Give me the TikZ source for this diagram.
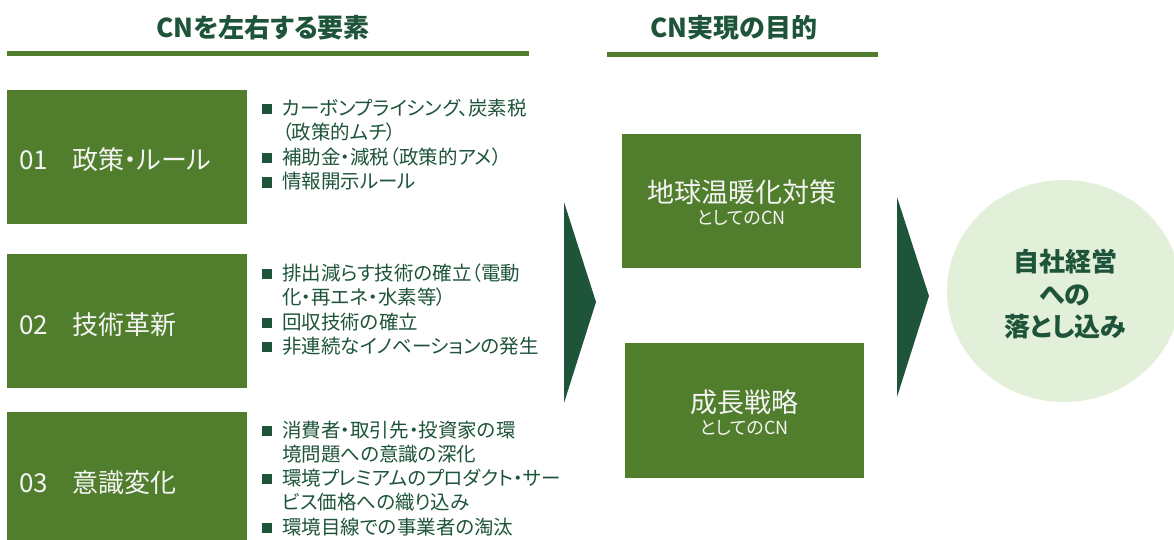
\documentclass[tikz,border=0pt]{standalone}
\usepackage{fontspec}
\setmainfont{Noto Sans CJK JP}[RawFeature=+palt]
\usetikzlibrary{shapes.geometric}
\definecolor{boxgreen}{HTML}{507E2C}
\definecolor{darkgreen}{HTML}{1E5439}
\definecolor{lightgreen}{HTML}{E2F0D9}
\definecolor{boxtext}{HTML}{F4F4F4}
\newcommand{\bsq}{\makebox[20pt][l]{\raisebox{1.5pt}{\rule{10pt}{10pt}}}}
\tikzset{
  leftbox/.style={fill=boxgreen, inner sep=0pt, minimum width=240pt, minimum height=134pt},
  midbox/.style={fill=boxgreen, inner sep=0pt, minimum width=239pt, minimum height=134pt},
  boxlabel/.style={anchor=base west, inner sep=0pt, text=boxtext, font=\fontsize{26}{30}\selectfont},
  midlabel/.style={anchor=base, inner sep=0pt, text=boxtext, font=\fontsize{27}{30}\selectfont},
  midsub/.style={anchor=base, inner sep=0pt, text=boxtext, font=\fontsize{18}{20}\selectfont},
  bullet/.style={anchor=base west, inner sep=0pt, text=darkgreen, font=\fontsize{19.5}{24}\selectfont},
  titletext/.style={anchor=base, inner sep=0pt, text=darkgreen, font=\bfseries\fontsize{26}{30}\selectfont},
  goaltext/.style={anchor=base, inner sep=0pt, text=darkgreen, font=\bfseries\fontsize{26}{30}\selectfont},
  chevron/.style={fill=darkgreen},
  rulebar/.style={fill=boxgreen},
  goal/.style={ellipse, fill=lightgreen, inner sep=0pt, minimum width=234pt, minimum height=222pt}
}
\begin{document}
\begin{tikzpicture}[x=1pt,y=-1pt]
\useasboundingbox (0,0) rectangle (1174,540);
\fill[white] (0,0) rectangle (1174,540);

% titles and rules
\node[titletext] (t1) at (263,38) {CNを左右する要素};
\fill[rulebar] (7,51) rectangle (529,56);
\node[titletext] (t2) at (734,38) {CN実現の目的};
\fill[rulebar] (607,52) rectangle (878,57);

% left boxes
\node[leftbox] (b1) at (127,157) {};
\node[leftbox] (b2) at (127,321) {};
\node[leftbox] (b3) at (127,479) {};
\node[boxlabel] (l1) at (19,170) {\makebox[53pt][l]{01}政策・ルール};
\node[boxlabel] (l2) at (19,334) {\makebox[53pt][l]{02}技術革新};
\node[boxlabel] (l3) at (19,492) {\makebox[53pt][l]{03}意識変化};

% bullets group 1
\node[bullet] (p1a) at (262,115.5) {\bsq カーボンプライシング、炭素税};
\node[bullet] (p1b) at (282,140) {（政策的ムチ）};
\node[bullet] (p1c) at (262,164.5) {\bsq 補助金・減税（政策的アメ）};
\node[bullet] (p1d) at (262,189) {\bsq 情報開示ルール};
% bullets group 2
\node[bullet] (p2a) at (262,280) {\bsq 排出減らす技術の確立（電動};
\node[bullet] (p2b) at (282,304) {化・再エネ・水素等）};
\node[bullet] (p2c) at (262,329) {\bsq 回収技術の確立};
\node[bullet] (p2d) at (262,353) {\bsq 非連続なイノベーションの発生};
% bullets group 3
\node[bullet] (p3a) at (262,437) {\bsq 消費者・取引先・投資家の環};
\node[bullet] (p3b) at (282,461) {境問題への意識の深化};
\node[bullet] (p3c) at (262,485) {\bsq 環境プレミアムのプロダクト・サー};
\node[bullet] (p3d) at (282,509) {ビス価格への織り込み};
\node[bullet] (p3e) at (262,534) {\bsq 環境目線での事業者の淘汰};

% chevrons
\fill[chevron] (564,202) -- (596,302) -- (564,403) -- cycle;
\fill[chevron] (897,197) -- (929,296) -- (897,397) -- cycle;

% middle boxes
\node[midbox] (m1) at (741.5,201) {};
\node[midbox, minimum height=135pt] (m2) at (744.5,410.5) {};
\node[midlabel] (m1a) at (741.5,202) {地球温暖化対策};
\node[midsub] (m1b) at (741.5,224.5) {としてのCN};
\node[midlabel] (m2a) at (744.5,412) {成長戦略};
\node[midsub] (m2b) at (744.5,434.5) {としてのCN};

% goal ellipse
\node[goal] (g) at (1064,291) {};
\node[goaltext] (g1) at (1065,271.5) {自社経営};
\node[goaltext] (g2) at (1065,304.5) {への};
\node[goaltext] (g3) at (1065,336.5) {落とし込み};
\end{tikzpicture}
\end{document}
